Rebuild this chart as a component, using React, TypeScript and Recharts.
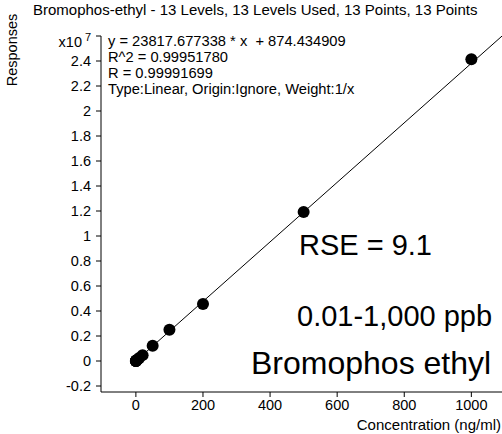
import React from "react"
import { ScatterChart, Scatter, XAxis, YAxis } from "recharts"

// calibration levels (ng/ml) and measured responses
const levels = [0.01, 0.05, 0.1, 0.5, 1, 5, 10, 20, 50, 100, 200, 500, 1000]
const responses = [1100, 2100, 3300, 12500, 24800, 119000, 238000, 470000, 1220000, 2500000, 4560000, 11920000, 24140000]

// regression shown in the header text
const slope = 23817.677338
const intercept = 874.434909
const fitRange = [0, 1120]

const xTicks = [0, 200, 400, 600, 800, 1000]
const yTicks = [-2000000, 0, 2000000, 4000000, 6000000, 8000000, 10000000, 12000000, 14000000, 16000000, 18000000, 20000000, 22000000, 24000000, 26000000]

const title = "Bromophos-ethyl - 13 Levels, 13 Levels Used, 13 Points, 13 Points"
const headerLines = [
  "y = 23817.677338 * x  + 874.434909",
  "R^2 = 0.99951780",
  "R = 0.99991699",
  "Type:Linear, Origin:Ignore, Weight:1/x",
]

const FONT = "'Liberation Sans', Arial, sans-serif"

const points = levels.map((x, i) => ({ x, y: responses[i] }))
const fitLine = fitRange.map((x) => ({ x, y: slope * x + intercept }))

const YTick = (props: any) => {
  const { x, y, payload } = props
  const v = payload.value
  if (v === 26000000) {
    return (
      <g>
        <text x={x - 12} y={y + 11} textAnchor="end" fontSize={14.5} fontFamily={FONT} fill="#000">
          x10
        </text>
        <text x={x - 3} y={y + 5} textAnchor="end" fontSize={11} fontFamily={FONT} fill="#000">
          7
        </text>
      </g>
    )
  }
  const label = String(Math.round(v / 1000000) / 10)
  return (
    <text x={x - 3} y={y + 5} textAnchor="end" fontSize={14.5} fontFamily={FONT} fill="#000">
      {label}
    </text>
  )
}

const Dot = (props: any) => <circle cx={props.cx} cy={props.cy} r={6} fill="#000" />

const App = () => {
  const tick = { fontSize: 14.5, fontFamily: FONT, fill: "#000" }
  return (
    <div
      style={{
        position: "absolute",
        left: 0,
        top: 0,
        width: 502,
        height: 434,
        overflow: "hidden",
        background: "#fff",
        fontFamily: FONT,
        color: "#000",
      }}
    >
      <ScatterChart width={520} height={434} margin={{ top: 36, right: 0, bottom: 0, left: 0 }}>
        <XAxis
          type="number"
          dataKey="x"
          domain={[-104, 1145]}
          allowDataOverflow
          ticks={xTicks}
          tickSize={5}
          tickMargin={3}
          height={42}
          tick={tick}
          stroke="#000"
          axisLine={{ stroke: "#000" }}
          tickLine={{ stroke: "#000" }}
        />
        <YAxis
          type="number"
          dataKey="y"
          domain={[-2480000, 26000000]}
          allowDataOverflow
          ticks={yTicks}
          interval={0}
          tickSize={5}
          width={101}
          tick={<YTick />}
          stroke="#000"
          axisLine={{ stroke: "#000" }}
          tickLine={{ stroke: "#000" }}
        />
        <Scatter
          data={fitLine}
          line={{ stroke: "#000", strokeWidth: 1 }}
          shape={() => <g />}
          isAnimationActive={false}
        />
        <Scatter data={points} shape={<Dot />} isAnimationActive={false} />
      </ScatterChart>

      <div style={{ position: "absolute", left: 33, top: 1, fontSize: 15, whiteSpace: "pre" }}>{title}</div>

      {headerLines.map((line, i) => (
        <div
          key={i}
          style={{ position: "absolute", left: 108, top: 33 + i * 16, fontSize: 14.7, lineHeight: "17px", whiteSpace: "pre" }}
        >
          {line}
        </div>
      ))}

      <div
        style={{
          position: "absolute",
          left: 12 - 40,
          top: 50 - 9,
          width: 80,
          height: 18,
          fontSize: 14.5,
          lineHeight: "18px",
          textAlign: "center",
          transform: "rotate(-90deg)",
        }}
      >
        Responses
      </div>

      <div style={{ position: "absolute", right: 1, top: 416, fontSize: 15, lineHeight: "17px", whiteSpace: "nowrap" }}>
        Concentration (ng/ml)
      </div>

      <div style={{ position: "absolute", left: 299, top: 229, fontSize: 29, lineHeight: "32px", whiteSpace: "nowrap" }}>
        RSE = 9.1
      </div>
      <div style={{ position: "absolute", left: 297, top: 300, fontSize: 29, lineHeight: "32px", whiteSpace: "nowrap" }}>
        0.01-1,000 ppb
      </div>
      <div style={{ position: "absolute", left: 251, top: 345, fontSize: 32, lineHeight: "36px", whiteSpace: "nowrap" }}>
        Bromophos ethyl
      </div>
    </div>
  )
}

export default App
